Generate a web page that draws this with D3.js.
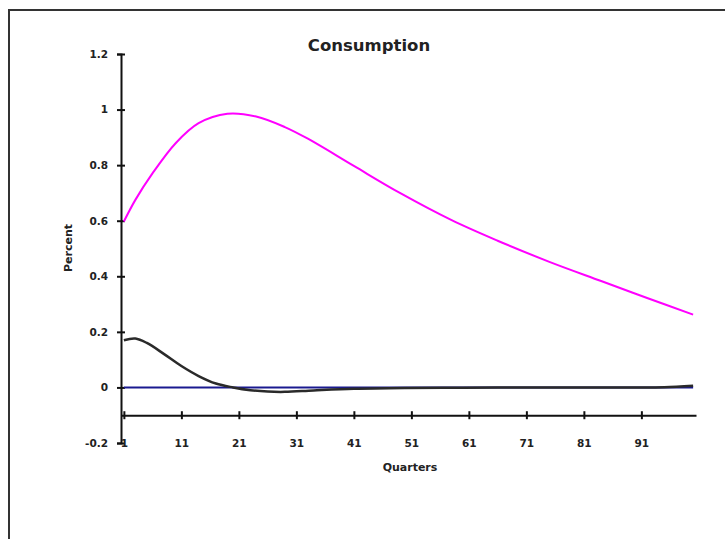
<!DOCTYPE html>
<html>
<head>
<meta charset="utf-8">
<script src="https://cdn.jsdelivr.net/npm/d3@7"></script>
<style>
  body { margin: 0; background: #fff; }
  svg { display: block; }
  text { font-family: "DejaVu Sans", Verdana, sans-serif; fill: #222; }
</style>
</head>
<body>
<svg id="chart" width="725" height="539"></svg>
<script>
// values
const pinkQuarters = [1, 3, 6, 10, 14, 19, 24, 29, 33, 41, 49, 58, 66, 75, 84, 92, 100];
const pinkValues = [0.597, 0.675, 0.771, 0.879, 0.951, 0.985, 0.975, 0.937, 0.895, 0.797, 0.70, 0.602, 0.528, 0.452, 0.383, 0.322, 0.262];

const blackQuarters = [1, 3, 5, 8, 11, 14, 17, 20, 23, 26, 29, 34, 41, 50, 60, 70, 80, 90, 95, 100];
const blackValues = [0.17, 0.176, 0.16, 0.12, 0.077, 0.041, 0.014, 0, -0.01, -0.015, -0.016, -0.011, -0.005, -0.002, -0.001, 0, 0, 0, 0.001, 0.006];

const blueQuarters = [1, 100];
const blueValues = [0, 0];

const xTicks = [1, 11, 21, 31, 41, 51, 61, 71, 81, 91];
const yTicks = [-0.2, 0, 0.2, 0.4, 0.6, 0.8, 1, 1.2];

const svg = d3.select("#chart");

// outer frame (only left and top edges fall inside the window)
svg.append("rect")
    .attr("x", 9).attr("y", 10)
    .attr("width", 800).attr("height", 600)
    .attr("fill", "none")
    .attr("stroke", "#333")
    .attr("stroke-width", 2);

const x = d3.scaleLinear().domain([0.5, 100.5]).range([121, 696]);
const y = d3.scaleLinear().domain([-0.2, 1.2]).range([443, 54]);

// y axis with ticks crossing the line
const yAxis = svg.append("g")
    .attr("transform", `translate(${x(0.5)},0)`)
    .call(d3.axisLeft(y).tickValues(yTicks).tickSize(4).tickPadding(9)
        .tickFormat(d => String(+d.toFixed(1))));
yAxis.select(".domain").attr("stroke", "#111").attr("stroke-width", 2);
yAxis.selectAll(".tick line").attr("x1", 4).attr("x2", -4).attr("stroke", "#111").attr("stroke-width", 2);
yAxis.selectAll(".tick text")
    .style("font-family", "DejaVu Sans, sans-serif")
    .style("font-size", "10.5px")
    .style("font-weight", "bold")
    .attr("fill", "#222");

// x axis crosses at -0.1
const xAxis = svg.append("g")
    .attr("transform", `translate(0,${y(-0.1)})`)
    .call(d3.axisBottom(x).tickValues(xTicks).tickSize(4).tickSizeOuter(0).tickPadding(0));
xAxis.select(".domain").attr("stroke", "#111").attr("stroke-width", 2);
xAxis.selectAll(".tick line").attr("y1", -4).attr("y2", 4).attr("stroke", "#111").attr("stroke-width", 2);
xAxis.selectAll(".tick text")
    .attr("y", y(-0.2) - y(-0.1))
    .attr("dy", "0.35em")
    .style("font-family", "DejaVu Sans, sans-serif")
    .style("font-size", "10.5px")
    .style("font-weight", "bold")
    .attr("fill", "#222");

// lines
const line = d3.line()
    .x(d => x(d[0]))
    .y(d => y(d[1]))
    .curve(d3.curveCatmullRom.alpha(0.5));

svg.append("path")
    .datum(d3.zip(blueQuarters, blueValues))
    .attr("d", line)
    .attr("fill", "none")
    .attr("stroke", "#1a1a90")
    .attr("stroke-width", 2);

svg.append("path")
    .datum(d3.zip(blackQuarters, blackValues))
    .attr("d", line)
    .attr("fill", "none")
    .attr("stroke", "#2a2a2a")
    .attr("stroke-width", 2.5);

svg.append("path")
    .datum(d3.zip(pinkQuarters, pinkValues))
    .attr("d", line)
    .attr("fill", "none")
    .attr("stroke", "#ff00ff")
    .attr("stroke-width", 2);

// titles
svg.append("text")
    .attr("x", 369).attr("y", 51)
    .attr("text-anchor", "middle")
    .style("font-size", "16.5px")
    .style("font-weight", "bold")
    .text("Consumption");

svg.append("text")
    .attr("x", 410).attr("y", 471)
    .attr("text-anchor", "middle")
    .style("font-size", "11px")
    .style("font-weight", "bold")
    .text("Quarters");

svg.append("text")
    .attr("transform", "translate(72,248) rotate(-90)")
    .attr("text-anchor", "middle")
    .style("font-size", "11px")
    .style("font-weight", "bold")
    .text("Percent");
</script>
</body>
</html>
